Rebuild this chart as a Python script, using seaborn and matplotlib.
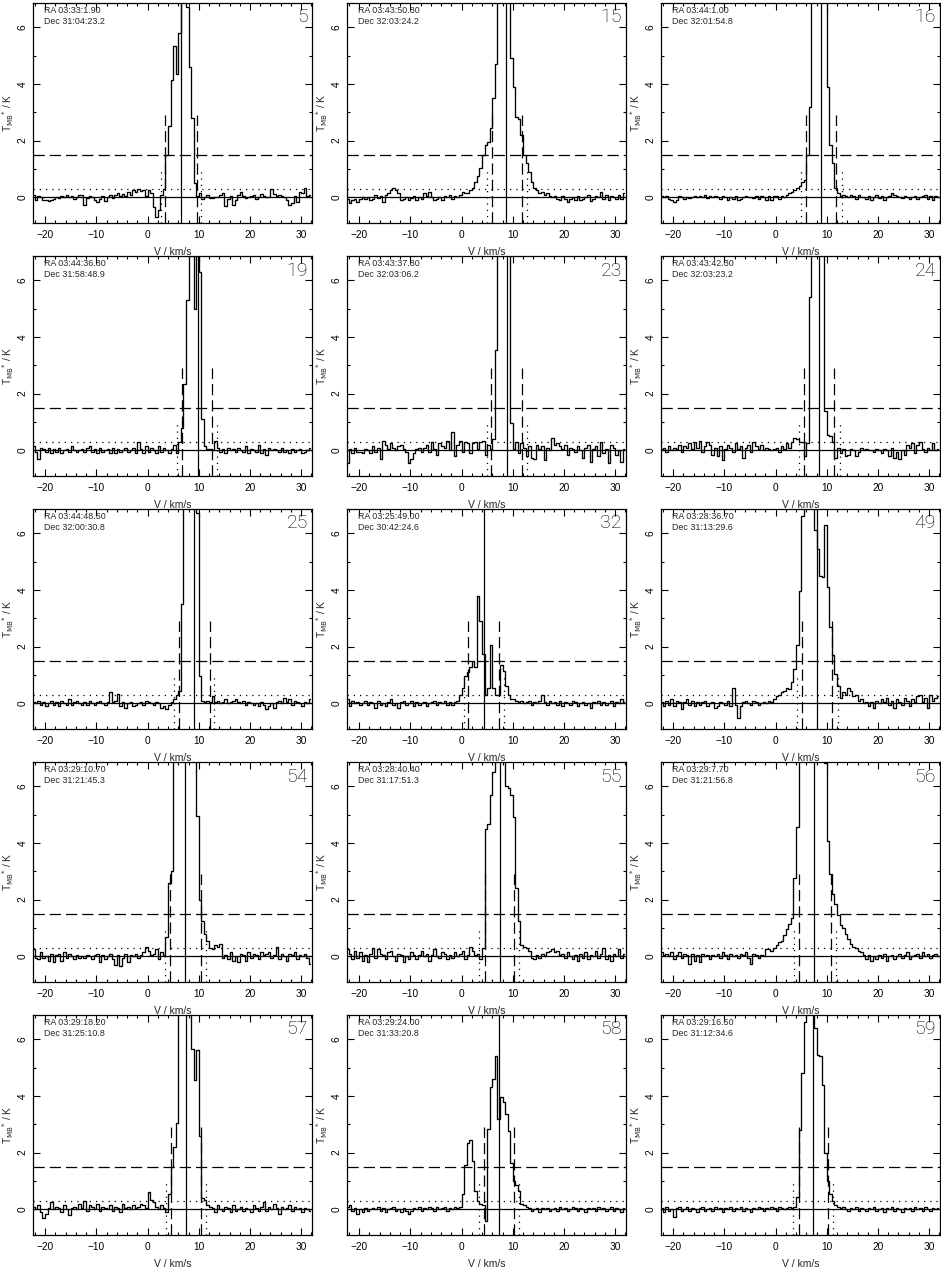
import numpy as np
import matplotlib
matplotlib.use("Agg")
import matplotlib.pyplot as plt
import seaborn as sns
from matplotlib.ticker import MultipleLocator

# channel grid: 0.5 km/s channels starting at -22.5 km/s
v_first_edge = -22.5
chan_width = 0.5

panel_ids = ["5", "15", "16", "19", "23", "24", "25", "32", "49", "54", "55", "56", "57", "58", "59"]
ra_labels = ["03:33:1.90", "03:43:50.80", "03:44:1.00", "03:44:36.80", "03:43:37.80",
             "03:43:42.30", "03:44:48.50", "03:25:49.00", "03:28:36.70", "03:29:10.70",
             "03:28:40.40", "03:29:7.70", "03:29:18.20", "03:29:24.00", "03:29:16.50"]
dec_labels = ["31:04:23.2", "32:03:24.2", "32:01:54.8", "31:58:48.9", "32:03:06.2",
              "32:03:23.2", "32:00:30.8", "30:42:24.6", "31:13:29.6", "31:21:45.3",
              "31:17:51.3", "31:21:56.8", "31:25:10.8", "31:33:20.8", "31:12:34.6"]

# line centre, dashed and dotted velocity markers (km/s)
v_centre = [6.6, 8.7, 8.9, 9.8, 8.8, 8.5, 9.1, 4.3, 8.0, 7.4, 7.6, 7.6, 7.6, 7.4, 7.4]
v_dash_lo = [3.5, 5.9, 5.9, 6.7, 5.8, 5.5, 6.2, 1.3, 5.1, 4.4, 4.5, 4.5, 4.6, 4.4, 4.5]
v_dash_hi = [9.6, 11.8, 11.9, 12.6, 11.8, 11.5, 12.1, 7.4, 11.0, 10.4, 10.3, 10.8, 10.5, 10.3, 10.3]
v_dot_lo = [2.7, 5.0, 5.0, 5.7, 4.9, 4.6, 5.1, 0.4, 4.1, 3.5, 3.5, 3.7, 3.7, 3.4, 3.5]
v_dot_hi = [10.5, 12.7, 12.9, 13.6, 12.7, 12.5, 13.0, 8.3, 12.1, 11.4, 11.3, 11.8, 11.5, 11.2, 11.2]

t_dashed = 1.5
t_dotted = 0.3

spec_5 = [0.10, -0.10, 0.05, 0.00, -0.08, -0.10, -0.12, -0.08, -0.05, 0.02,
          -0.03, 0.05, 0.00, 0.08, 0.02, 0.04, -0.05, 0.00, 0.08, 0.10,
          -0.25, -0.02, 0.05, 0.00, -0.08, -0.15, -0.05, 0.05, -0.12, 0.00,
          0.10, -0.02, 0.08, 0.15, 0.05, 0.12, 0.05, 0.20, 0.10, 0.25,
          0.18, 0.30, 0.22, 0.25, 0.05, 0.25, 0.15, -0.35, -0.70, -0.45,
          0.10, 0.30, 1.50, 2.50, 4.15, 5.35, 4.35, 5.80, 7.50, 8.00,
          6.70, 4.60, 2.80, 0.50, 0.05, 0.15, -0.05, 0.02, 0.10, -0.02,
          -0.03, 0.02, 0.00, 0.08, 0.15, -0.30, -0.05, 0.05, -0.25, -0.10,
          0.10, 0.20, 0.05, -0.02, 0.00, 0.05, 0.10, -0.05, 0.00, 0.12,
          0.05, 0.02, 0.00, 0.30, 0.12, 0.05, 0.10, 0.05, 0.00, -0.10,
          -0.25, -0.20, 0.05, -0.15, 0.20, 0.15, 0.35, 0.05, 0.10]
spec_15 = [-0.05, -0.20, -0.10, -0.05, -0.15, -0.05, 0.00, -0.05, 0.02, -0.10,
           -0.05, 0.10, -0.02, 0.05, -0.15, 0.10, 0.15, 0.25, 0.35, 0.25,
           0.15, -0.10, -0.05, 0.00, -0.08, -0.02, 0.05, -0.10, 0.00, -0.05,
           0.15, 0.05, 0.20, 0.00, -0.10, -0.05, 0.00, -0.08, 0.05, 0.00,
           0.10, -0.05, 0.05, 0.02, 0.10, 0.20, 0.15, 0.15, 0.25, 0.35,
           0.55, 0.75, 1.05, 1.50, 1.85, 1.95, 2.45, 3.50, 4.70, 9.00,
           9.00, 9.00, 9.00, 9.00, 4.90, 3.90, 2.85, 2.75, 2.20, 1.50,
           1.20, 0.90, 0.55, 0.35, 0.25, 0.15, 0.20, 0.10, 0.15, 0.05,
           0.00, 0.05, -0.05, -0.10, 0.05, -0.05, -0.15, -0.05, 0.00, -0.08,
           0.05, -0.10, -0.05, 0.00, 0.10, -0.12, -0.05, 0.05, 0.00, 0.20,
           -0.05, 0.10, -0.10, 0.05, 0.00, -0.05, 0.10, -0.05, 0.15]
spec_16 = [0.05, 0.00, 0.05, -0.05, -0.10, -0.15, -0.08, 0.05, 0.00, -0.05,
           0.02, -0.03, 0.00, 0.05, 0.00, 0.05, 0.02, 0.08, -0.02, 0.05,
           0.00, 0.05, 0.00, -0.05, 0.05, 0.02, -0.08, 0.00, -0.05, 0.05,
           -0.08, -0.05, 0.00, 0.05, 0.03, 0.00, -0.02, 0.05, -0.05, 0.05,
           0.00, -0.10, 0.05, -0.10, 0.05, 0.05, -0.05, 0.05, 0.00, 0.10,
           0.15, 0.20, 0.25, 0.35, 0.40, 0.55, 0.60, 1.50, 3.20, 9.00,
           9.00, 9.00, 9.00, 9.00, 9.00, 3.90, 1.85, 1.20, 0.35, 0.15,
           0.05, 0.10, 0.05, 0.00, 0.08, 0.05, -0.05, 0.10, 0.02, 0.00,
           -0.05, 0.05, -0.08, 0.00, 0.10, -0.02, 0.05, -0.10, 0.00, 0.05,
           0.15, 0.08, 0.05, 0.00, -0.02, 0.05, 0.00, -0.05, 0.02, 0.05,
           -0.05, 0.00, 0.05, 0.10, -0.05, 0.05, -0.08, 0.05, 0.00]
spec_19 = [0.15, -0.05, -0.30, 0.10, 0.05, -0.05, 0.10, -0.10, 0.05, -0.05,
           0.10, -0.10, 0.00, 0.05, -0.05, 0.15, 0.00, -0.05, 0.00, 0.05,
           -0.05, 0.10, 0.15, -0.05, 0.05, -0.10, 0.10, -0.05, 0.00, 0.05,
           -0.10, 0.10, -0.10, 0.05, -0.05, 0.00, 0.10, -0.05, 0.00, 0.10,
           -0.10, 0.30, 0.05, -0.10, 0.15, -0.05, 0.10, 0.00, -0.10, 0.15,
           -0.05, 0.10, 0.00, -0.10, 0.05, 0.20, -0.10, 0.30, 0.80, 2.35,
           5.30, 7.50, 6.85, 5.00, 7.20, 6.30, 1.10, 0.15, 0.05, 0.05,
           0.00, 0.35, 0.10, -0.05, 0.05, -0.10, 0.10, 0.00, 0.05, -0.05,
           0.10, 0.00, -0.05, 0.15, -0.10, 0.05, 0.00, -0.05, 0.20, -0.10,
           0.05, -0.15, 0.10, 0.00, 0.05, 0.00, -0.05, 0.10, -0.05, 0.00,
           -0.10, 0.05, -0.05, 0.00, 0.05, -0.10, -0.05, 0.00, 0.10]
spec_23 = [-0.45, 0.05, -0.10, 0.10, -0.05, -0.05, -0.10, 0.05, 0.00, -0.10,
           0.15, -0.05, 0.10, -0.30, 0.35, 0.20, 0.05, 0.25, 0.10, 0.00,
           0.15, 0.20, 0.05, -0.05, -0.45, -0.30, -0.10, 0.05, 0.10, -0.05,
           0.10, 0.20, -0.05, 0.30, 0.05, -0.15, 0.25, 0.15, 0.10, 0.35,
           0.00, 0.65, -0.20, 0.20, 0.35, -0.05, 0.30, 0.25, -0.10, 0.25,
           0.30, 0.05, 0.30, 0.35, -0.15, 0.20, 0.05, 0.40, 3.55, 9.00,
           9.00, 9.00, 9.00, 9.00, 0.95, 0.05, 0.30, -0.10, 0.25, 0.10,
           -0.20, 0.15, -0.25, -0.30, 0.20, 0.05, 0.15, -0.35, 0.10, 0.00,
           0.45, 0.20, 0.25, 0.15, 0.05, 0.20, -0.15, 0.10, 0.05, -0.05,
           0.15, 0.00, -0.25, 0.10, 0.20, -0.40, 0.05, 0.15, -0.20, 0.30,
           -0.10, 0.05, -0.45, 0.20, 0.10, -0.15, 0.00, -0.40, 0.05]
spec_24 = [0.05, 0.10, -0.05, 0.15, 0.00, 0.10, 0.05, 0.20, -0.05, 0.15,
           0.10, 0.25, 0.05, 0.30, 0.10, 0.35, -0.05, 0.15, 0.30, 0.20,
           -0.15, 0.10, -0.20, 0.15, -0.35, 0.05, 0.20, 0.10, -0.05, 0.25,
           0.05, 0.15, -0.25, 0.10, 0.20, -0.05, 0.30, 0.15, 0.05, 0.20,
           0.00, 0.10, 0.05, 0.00, 0.05, 0.10, -0.05, 0.15, 0.05, 0.25,
           0.10, 0.30, 0.45, 0.40, 0.30, 0.30, -0.20, 0.25, 5.40, 9.00,
           9.00, 9.00, 9.00, 9.00, 1.40, 0.55, 0.50, 0.30, -0.25, 0.10,
           -0.10, 0.05, -0.20, -0.15, 0.05, 0.00, -0.20, -0.05, 0.10, 0.00,
           0.05, 0.00, 0.02, -0.05, 0.05, 0.00, -0.10, 0.05, 0.00, -0.20,
           0.10, -0.25, -0.05, -0.30, 0.00, -0.15, 0.20, 0.10, 0.25, -0.10,
           0.20, 0.30, 0.05, -0.05, 0.10, 0.00, 0.25, 0.00, 0.05]
spec_25 = [0.05, 0.00, 0.10, -0.05, 0.05, -0.10, 0.00, 0.10, -0.05, 0.05,
           -0.10, 0.10, 0.00, -0.05, 0.15, -0.05, 0.05, 0.10, 0.00, -0.05,
           0.05, -0.05, 0.10, 0.00, -0.05, 0.05, 0.10, 0.00, -0.05, 0.05,
           0.40, 0.05, 0.10, 0.35, -0.10, 0.05, -0.15, 0.00, 0.05, -0.10,
           -0.05, 0.00, 0.05, -0.05, 0.10, 0.05, 0.00, -0.05, 0.05, 0.00,
           -0.15, -0.10, -0.20, -0.05, 0.05, 0.15, 0.30, 0.45, 3.50, 9.00,
           9.00, 9.00, 9.00, 9.00, 6.70, 0.95, 0.10, 0.05, 0.10, 0.05,
           0.25, 0.05, 0.10, 0.00, 0.05, 0.15, 0.00, 0.05, 0.10, 0.15,
           0.05, 0.00, 0.10, -0.05, 0.05, 0.00, -0.05, 0.00, -0.10, 0.05,
           -0.05, -0.20, -0.10, 0.00, -0.15, 0.05, 0.10, 0.00, 0.20, 0.05,
           0.15, -0.05, 0.10, 0.05, 0.00, -0.10, 0.05, 0.00, 0.15]
spec_32 = [0.15, -0.10, 0.10, 0.00, 0.05, -0.05, 0.00, 0.10, -0.05, 0.05,
           0.00, -0.15, 0.10, -0.05, 0.00, -0.10, 0.05, 0.15, -0.05, 0.00,
           -0.15, 0.05, 0.10, -0.05, 0.00, 0.10, -0.10, 0.05, -0.05, 0.00,
           0.05, -0.10, 0.00, 0.05, 0.10, -0.05, 0.05, 0.00, 0.10, -0.05,
           0.05, -0.05, 0.05, 0.10, 0.30, 0.55, 0.95, 1.10, 1.30, 1.50,
           1.30, 3.80, 2.90, 1.75, 0.30, 0.55, 2.05, 0.55, 0.30, 0.30,
           1.35, 1.15, 0.60, 0.30, 0.15, 0.15, 0.10, 0.05, 0.10, 0.00,
           0.05, 0.10, -0.05, 0.05, 0.00, 0.10, 0.30, 0.05, -0.05, 0.10,
           0.00, 0.05, -0.05, 0.10, -0.10, 0.05, 0.00, -0.05, 0.10, 0.05,
           -0.10, 0.00, 0.05, -0.05, 0.00, -0.15, 0.05, 0.00, 0.10, -0.05,
           0.05, -0.05, 0.00, 0.10, -0.10, 0.05, 0.00, 0.15, 0.05]
spec_49 = [0.05, -0.10, 0.10, -0.05, 0.15, -0.10, 0.10, 0.05, -0.20, 0.05,
           0.15, -0.05, 0.10, -0.10, 0.05, -0.05, 0.05, 0.10, -0.10, 0.00,
           0.05, -0.15, -0.10, 0.05, 0.00, -0.05, 0.10, -0.10, 0.55, -0.05,
           -0.50, -0.10, 0.05, 0.10, 0.00, -0.05, 0.10, 0.05, -0.05, 0.00,
           0.05, 0.00, 0.10, 0.05, 0.15, 0.25, 0.30, 0.40, 0.45, 0.55,
           0.50, 0.75, 1.20, 2.05, 3.95, 6.60, 9.00, 9.00, 9.00, 9.00,
           6.10, 5.45, 4.50, 4.45, 6.30, 4.10, 2.70, 1.70, 1.05, 0.60,
           0.20, 0.40, 0.30, 0.55, 0.45, 0.25, 0.30, 0.10, 0.15, 0.00,
           0.05, -0.10, 0.05, -0.15, 0.10, 0.00, 0.15, 0.05, 0.20, -0.05,
           0.10, -0.15, 0.15, 0.05, -0.05, 0.20, 0.10, -0.10, 0.15, 0.05,
           0.25, 0.30, 0.05, 0.20, -0.15, 0.30, 0.10, 0.20, 0.25]
spec_54 = [0.25, -0.05, -0.10, 0.15, -0.05, 0.00, -0.15, 0.10, -0.20, 0.05,
           0.10, -0.15, 0.15, -0.05, 0.10, 0.00, -0.10, 0.05, -0.05, 0.00,
           -0.05, 0.05, 0.00, -0.10, 0.05, 0.10, -0.20, 0.05, -0.10, 0.00,
           0.10, -0.10, -0.30, 0.05, -0.35, -0.05, 0.10, -0.20, 0.05, 0.00,
           0.10, -0.05, 0.05, 0.15, 0.35, 0.20, 0.05, 0.10, 0.25, -0.10,
           0.15, 0.05, 0.70, 2.60, 3.00, 9.00, 9.00, 9.00, 9.00, 9.00,
           9.00, 9.00, 9.00, 9.00, 4.95, 2.00, 1.25, 0.80, 0.55, 0.30,
           0.25, 0.40, 0.35, 0.45, -0.05, 0.05, -0.10, 0.15, -0.15, 0.00,
           -0.20, 0.10, 0.05, -0.15, 0.15, -0.05, 0.10, 0.05, -0.10, 0.15,
           0.05, 0.10, 0.15, -0.05, 0.05, 0.35, -0.10, 0.10, 0.00, -0.15,
           0.10, 0.05, 0.15, -0.10, 0.05, 0.00, 0.10, -0.05, -0.25]
spec_55 = [0.25, 0.10, -0.10, 0.20, -0.05, 0.15, -0.15, 0.05, -0.20, 0.10,
           0.30, -0.05, 0.25, 0.10, 0.05, -0.10, 0.15, 0.20, 0.00, -0.15,
           0.10, 0.05, -0.20, 0.00, -0.10, 0.15, 0.05, -0.10, 0.05, 0.20,
           0.00, 0.10, -0.15, 0.05, 0.25, 0.00, -0.05, 0.15, 0.10, -0.10,
           0.05, -0.05, 0.15, 0.00, 0.10, 0.20, -0.10, 0.05, 0.35, 0.20,
           0.05, 0.10, -0.10, 0.30, 4.50, 4.65, 5.70, 6.50, 9.00, 9.00,
           9.00, 9.00, 6.00, 5.95, 5.70, 4.90, 2.40, 1.25, 0.40, 0.35,
           0.30, 0.20, -0.05, -0.10, 0.05, -0.05, 0.10, 0.00, 0.15, 0.20,
           0.25, 0.15, 0.20, 0.05, 0.10, -0.05, 0.15, 0.00, -0.10, 0.05,
           -0.15, 0.10, -0.05, 0.15, -0.10, 0.05, 0.00, 0.20, -0.05, 0.10,
           0.30, -0.10, 0.05, -0.15, 0.10, 0.00, 0.25, -0.05, 0.10]
spec_56 = [0.15, 0.05, 0.10, 0.00, 0.15, -0.10, 0.05, 0.15, -0.05, 0.10,
           0.05, -0.25, 0.10, -0.15, 0.05, -0.20, 0.10, 0.00, 0.05, -0.10,
           0.05, 0.00, 0.10, -0.05, 0.15, 0.05, -0.10, 0.10, 0.00, 0.05,
           -0.05, 0.10, 0.05, 0.15, -0.05, -0.25, 0.10, 0.05, -0.05, 0.05,
           0.00, 0.25, 0.25, 0.20, 0.30, 0.40, 0.50, 0.55, 0.75, 0.95,
           1.15, 1.35, 2.75, 4.55, 9.00, 9.00, 9.00, 9.00, 9.00, 9.00,
           9.00, 9.00, 9.00, 9.00, 6.80, 4.05, 2.90, 2.20, 1.85, 1.45,
           1.10, 1.00, 0.80, 0.60, 0.45, 0.35, 0.30, 0.20, 0.15, 0.05,
           -0.10, 0.05, -0.15, 0.00, -0.10, 0.05, -0.05, 0.10, -0.15, 0.00,
           0.05, -0.10, 0.00, 0.10, -0.05, 0.05, 0.15, -0.10, 0.00, 0.05,
           0.10, -0.05, 0.15, 0.00, 0.10, -0.05, 0.05, 0.10, 0.00]
spec_57 = [0.10, 0.00, 0.15, -0.10, -0.30, -0.15, 0.05, 0.25, 0.00, 0.10,
           0.05, -0.10, 0.15, 0.00, -0.20, 0.05, 0.10, 0.00, 0.20, 0.05,
           0.30, -0.05, 0.15, 0.10, 0.00, 0.20, -0.05, 0.10, 0.05, 0.00,
           0.15, -0.05, 0.10, 0.05, -0.10, 0.20, 0.05, 0.10, 0.00, 0.15,
           0.05, 0.10, 0.20, 0.15, 0.05, 0.60, 0.35, 0.25, 0.10, 0.00,
           0.15, 0.05, -0.10, 0.55, 1.50, 2.20, 3.05, 9.00, 9.00, 9.00,
           9.00, 9.00, 5.65, 4.55, 5.60, 2.60, 0.40, 0.35, 0.15, 0.10,
           0.05, -0.10, 0.15, 0.00, -0.05, 0.10, 0.05, -0.10, 0.15, -0.05,
           0.00, 0.10, -0.05, 0.05, 0.00, -0.10, 0.15, 0.05, -0.05, 0.10,
           0.25, -0.05, 0.10, 0.00, 0.20, 0.05, -0.15, 0.10, 0.00, 0.05,
           0.15, -0.05, 0.10, 0.00, 0.05, -0.10, 0.05, 0.00, -0.05]
spec_58 = [0.10, 0.15, -0.05, 0.05, -0.15, 0.00, -0.10, 0.05, -0.05, 0.00,
           0.05, 0.00, 0.10, -0.05, 0.05, -0.10, 0.00, 0.05, 0.10, -0.05,
           0.00, -0.10, 0.05, -0.05, -0.15, -0.05, 0.05, 0.00, 0.10, -0.05,
           0.05, 0.00, 0.10, 0.05, -0.05, 0.10, 0.00, 0.05, 0.10, -0.05,
           0.05, 0.00, 0.10, 0.05, 0.10, 0.55, 1.55, 2.35, 2.45, 1.70,
           0.65, 0.30, 0.20, 0.15, -0.40, 2.85, 4.30, 4.60, 5.40, 3.20,
           3.95, 3.80, 3.35, 2.75, 1.65, 1.00, 0.85, 0.65, 0.20, 0.15,
           0.10, 0.05, -0.05, 0.00, 0.05, -0.10, 0.05, 0.00, 0.05, -0.05,
           0.00, 0.05, -0.05, 0.10, 0.00, 0.05, -0.05, 0.00, 0.10, 0.05,
           -0.05, 0.05, 0.00, -0.10, 0.05, 0.00, 0.05, -0.05, 0.10, 0.00,
           0.05, -0.05, 0.00, 0.10, -0.05, 0.05, 0.00, -0.10, 0.05]
spec_59 = [0.05, -0.10, 0.10, -0.05, 0.00, -0.25, 0.05, 0.10, -0.05, 0.00,
           0.10, -0.05, 0.05, 0.00, -0.10, 0.05, 0.10, -0.05, 0.00, 0.05,
           -0.05, 0.10, 0.00, 0.05, -0.10, 0.05, 0.00, 0.10, -0.05, 0.05,
           0.00, 0.10, -0.05, 0.05, 0.00, -0.10, 0.05, 0.00, 0.10, 0.05,
           -0.05, 0.05, 0.00, 0.10, 0.05, -0.05, 0.10, 0.05, 0.00, 0.05,
           0.10, 0.05, 0.10, 0.45, 2.80, 4.80, 6.60, 9.00, 9.00, 9.00,
           6.40, 5.45, 5.40, 4.40, 2.00, 1.00, 0.55, 0.30, 0.15, 0.10,
           0.05, 0.10, 0.00, -0.05, 0.05, 0.00, 0.10, -0.05, 0.05, 0.00,
           -0.05, 0.05, 0.00, 0.10, -0.05, 0.00, 0.05, -0.10, 0.05, 0.00,
           0.10, -0.05, 0.05, 0.00, -0.10, 0.05, 0.00, 0.05, -0.05, 0.10,
           0.00, 0.05, -0.05, 0.10, 0.00, -0.05, 0.05, 0.00, 0.05]

spectra = [spec_5, spec_15, spec_16, spec_19, spec_23, spec_24, spec_25, spec_32,
           spec_49, spec_54, spec_55, spec_56, spec_57, spec_58, spec_59]
for pid, s in zip(panel_ids, spectra):
    if len(s) != 109:
        raise ValueError(f"panel {pid}: {len(s)} channels")

n_chan = len(spec_5)
velocity = v_first_edge + chan_width * (np.arange(n_chan) + 0.5)

sns.set_style("ticks")
plt.rcParams['font.family'] = ['Liberation Sans', 'DejaVu Sans']
plt.rcParams['axes.linewidth'] = 0.9
plt.rcParams['axes.edgecolor'] = 'black'

W, H = 941, 1270
fig = plt.figure(figsize=(W / 100, H / 100), dpi=100)

col_left = [33, 347, 661]
row_top = [3, 256, 509, 762, 1015]
ax_w, ax_h = 279, 220

xlim = (-22.35, 32.1)
ylim = (-0.9, 6.85)
lw = 0.9

for i, pid in enumerate(panel_ids):
    r, c = divmod(i, 3)
    ax = fig.add_axes([col_left[c] / W, (H - row_top[r] - ax_h) / H, ax_w / W, ax_h / H])
    sns.lineplot(x=velocity, y=np.array(spectra[i]), ax=ax, color="k", lw=0.95,
                 drawstyle="steps-mid", estimator=None)

    ax.axhline(0, color="k", lw=lw)
    ax.axhline(t_dotted, color="k", lw=lw, ls=(0, (1, 4)))
    ax.axhline(t_dashed, color="k", lw=lw, ls=(0, (9, 4)))
    ax.axvline(v_centre[i], color="k", lw=lw)
    for v in (v_dash_lo[i], v_dash_hi[i]):
        ax.plot([v, v], [ylim[0], 2.9], color="k", lw=lw, ls=(0, (9, 4)))
    for v in (v_dot_lo[i], v_dot_hi[i]):
        ax.plot([v, v], [ylim[0], 1.0], color="k", lw=lw, ls=(0, (1, 4)))

    ax.set_xlim(*xlim)
    ax.set_ylim(*ylim)
    ax.xaxis.set_major_locator(MultipleLocator(10))
    ax.xaxis.set_minor_locator(MultipleLocator(2))
    ax.yaxis.set_major_locator(MultipleLocator(2))
    ax.yaxis.set_minor_locator(MultipleLocator(1))
    ax.tick_params(which="both", direction="in", top=True, right=True,
                   width=0.8, labelsize=7.3, colors="black")
    ax.tick_params(axis="x", pad=5)
    ax.tick_params(axis="y", pad=4)
    ax.tick_params(which="major", length=5)
    ax.tick_params(which="minor", length=2.5)
    for lbl in ax.get_yticklabels():
        lbl.set_rotation(90)
        lbl.set_va("center")

    ax.set_xlabel("V / km/s", fontsize=7.5, labelpad=5)
    ax.set_ylabel(r"T$_{\rm MB}$$^{*}$ / K", fontsize=7.3, labelpad=1)

    ax.text(0.04, 0.985, f"RA {ra_labels[i]}", transform=ax.transAxes,
            fontsize=6.4, va="top", ha="left")
    ax.text(0.04, 0.935, f"Dec {dec_labels[i]}", transform=ax.transAxes,
            fontsize=6.4, va="top", ha="left")
    ax.text(0.985, 0.975, pid, transform=ax.transAxes, fontsize=14,
            va="top", ha="right", color="black",
            family=["Roboto", "DejaVu Sans"], fontweight="light")

fig.savefig("out.png", dpi=100)
